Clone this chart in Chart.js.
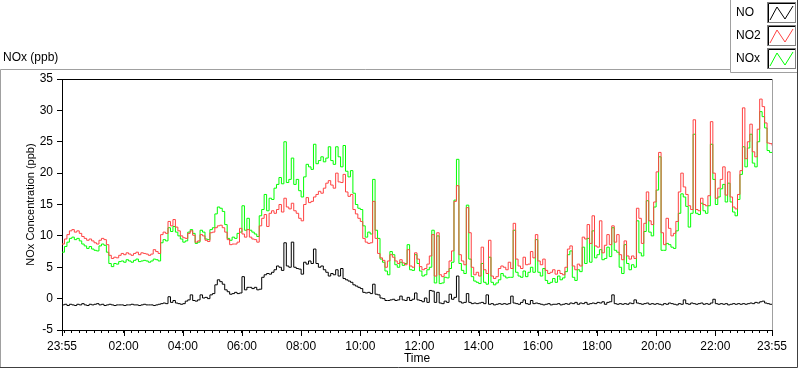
<!DOCTYPE html>
<html>
<head>
<meta charset="utf-8">
<script src="https://cdn.jsdelivr.net/npm/chart.js@4.4.1/dist/chart.umd.min.js"></script>
<style>
  html, body { margin: 0; padding: 0; background: #fff; }
  canvas { display: block; }
</style>
</head>
<body>
<canvas id="noxChart" width="800" height="369"></canvas>
<script>
// one reading every 5 minutes, starting 23:55 (row = one hour)
const sampleMinutes = 5;

const noValues = [
    -1.0, -0.9, -1.1, -0.9, -1.0, -1.1, -0.9, -1.0, -0.8, -1.0, -1.1, -0.9,
    -1.0, -0.9, -0.8, -1.0, -0.9, -1.1, -1.0, -0.9, -1.0, -1.1, -1.0, -1.0,
    -1.0, -1.1, -1.0, -1.0, -0.9, -1.0, -1.0, -1.1, -1.0, -0.9, -1.0, -1.0,
    -1.0, -1.1, -1.0, -0.9, -0.8, -0.7, -0.8, 0.3, -0.6, -0.3, -0.7, -0.8,
    -0.9, -0.8, -0.4, -0.2, 0.6, -0.3, -0.4, -0.2, 0.6, 0.1, 0.2, 0.0,
    0.6, 0.8, 2.2, 3.0, 2.7, 2.3, 1.4, 1.1, 0.7, 0.8, 1.0, 0.8,
    0.9, 3.5, 1.4, 1.8, 1.8, 1.6, 1.8, 1.4, 1.5, 3.4, 3.8, 4.0,
    3.9, 4.2, 4.6, 5.2, 5.0, 4.5, 8.9, 5.2, 5.0, 9.0, 5.0, 4.8,
    4.7, 3.9, 5.8, 5.5, 6.0, 5.6, 7.9, 5.6, 5.0, 5.2, 4.6, 4.2,
    3.6, 4.0, 3.8, 4.6, 3.6, 4.8, 3.2, 3.0, 2.8, 2.6, 2.2, 2.0,
    1.8, 1.6, 1.0, 0.9, 1.0, 0.8, 2.3, 0.7, 0.6, 0.1, 0.0, -0.3,
    -0.3, -0.2, -0.1, -0.3, -0.2, 0.4, -0.2, -0.3, 0.2, -0.3, -0.1, 0.9,
    -0.2, -0.3, -0.5, 0.1, -0.6, 1.3, 1.2, -0.6, 1.0, -0.7, -0.8, -0.4,
    -0.6, 0.7, -0.1, 0.2, 3.6, -0.5, -0.7, -0.6, 0.8, -0.6, -0.8, -0.7,
    -0.8, -0.7, -0.6, -0.8, 0.6, -0.9, -0.8, -1.0, -0.9, -0.8, -0.9, -0.8,
    -0.9, -0.8, 0.4, -0.7, -0.8, -0.9, -0.6, -0.2, -0.8, -0.9, -0.3, -0.8,
    -0.7, -0.8, -0.9, -1.0, -0.9, -0.8, -1.0, -0.9, -0.9, -0.8, -1.0, -0.9,
    -0.8, -0.9, -0.7, -0.8, -0.6, -0.9, -0.7, -0.8, -0.6, -0.9, -0.8, -0.7,
    -0.8, -0.6, -0.7, -0.5, -0.9, -0.6, -0.5, 0.6, -0.8, -0.9, -0.8, -0.9,
    -0.8, -0.9, -0.7, -0.8, -0.2, -0.7, -0.8, -0.9, -0.8, -0.7, -0.9, -0.8,
    -0.9, -0.8, -0.9, -1.0, -0.8, -0.9, -0.7, -0.8, -0.9, -1.0, -0.8, -0.9,
    -0.2, -0.8, -0.9, -0.7, -0.8, -0.9, -0.8, -0.7, -0.9, -0.8, -0.9, -0.7,
    -0.1, -0.8, -0.9, -0.8, -0.9, -0.8, -1.0, -0.9, -0.8, -0.9, -0.8, -0.9,
    -0.8, -0.9, -0.8, -0.7, -0.8, -0.6, -0.7, -0.5, -0.4, -0.7, -0.8, -0.9,
    -0.9
];

const no2Values = [
    8.7, 9.5, 10.2, 10.8, 11.0, 10.6, 10.8, 10.4, 9.9, 9.6, 9.3, 9.5,
    9.2, 8.9, 8.7, 9.3, 9.6, 9.4, 8.6, 6.9, 6.4, 6.6, 6.5, 6.9,
    7.2, 7.0, 7.3, 7.1, 6.9, 7.2, 7.4, 7.0, 7.3, 7.2, 7.1, 6.9,
    7.1, 7.8, 7.5, 7.2, 10.2, 10.6, 10.4, 12.3, 11.6, 12.6, 11.4, 10.8,
    10.0, 9.7, 9.6, 10.4, 10.8, 10.1, 9.0, 9.2, 10.2, 10.0, 9.3, 9.1,
    10.5, 10.6, 11.3, 11.6, 11.7, 11.3, 10.6, 9.4, 8.6, 8.7, 8.7, 9.0,
    11.2, 10.3, 9.8, 11.0, 9.8, 9.5, 9.4, 9.0, 11.6, 12.8, 13.4, 11.5,
    13.6, 14.0, 13.6, 14.2, 15.0, 13.8, 16.0, 14.6, 14.3, 15.2, 14.0, 13.6,
    12.8, 12.4, 15.0, 16.1, 15.3, 15.5, 16.2, 16.6, 17.1, 16.8, 17.6, 18.4,
    18.8, 18.1, 17.6, 20.0, 18.6, 18.5, 19.8, 17.0, 16.3, 16.6, 14.2, 13.5,
    12.8, 12.3, 9.6, 9.0, 8.8, 8.9, 15.5, 9.6, 7.2, 6.5, 6.1, 5.0,
    6.0, 7.0, 6.6, 6.0, 5.6, 6.2, 5.7, 5.4, 7.8, 5.2, 5.0, 7.3,
    6.3, 5.1, 4.6, 4.8, 5.5, 6.8, 10.2, 3.6, 10.5, 3.8, 3.5, 4.0,
    4.3, 6.0, 7.6, 15.5, 18.0, 7.0, 6.0, 5.4, 14.5, 10.5, 5.0, 3.8,
    4.2, 3.6, 8.2, 4.6, 4.0, 9.3, 3.6, 3.2, 3.5, 4.8, 5.2, 5.0,
    4.6, 5.8, 4.8, 12.0, 6.3, 5.2, 4.8, 6.6, 5.4, 5.5, 7.5, 6.5,
    10.2, 6.0, 5.4, 6.3, 4.5, 4.0, 4.2, 4.6, 3.9, 4.5, 4.0, 3.8,
    5.0, 7.9, 8.4, 5.2, 4.6, 5.5, 5.2, 9.8, 9.5, 11.8, 8.8, 13.2,
    8.4, 8.2, 12.4, 7.3, 8.5, 10.2, 8.6, 11.6, 9.0, 10.2, 7.0, 6.2,
    9.2, 6.8, 6.3, 6.8, 6.4, 14.4, 12.8, 8.8, 12.0, 17.0, 12.4, 11.8,
    15.4, 20.2, 23.3, 10.5, 8.6, 12.8, 11.2, 10.0, 10.4, 12.3, 17.0, 20.0,
    17.8, 16.6, 14.8, 14.2, 28.5, 14.2, 14.0, 16.0, 15.0, 14.8, 16.4, 28.2,
    20.0, 16.0, 17.6, 19.0, 21.0, 16.5, 20.2, 16.2, 14.6, 14.3, 16.6, 20.4,
    30.4, 22.3, 25.0, 27.8, 23.4, 22.6, 27.0, 31.8, 30.6, 28.0, 24.8, 24.7,
    24.4
];

const noxValues = [
    7.4, 8.3, 9.0, 9.6, 9.8, 9.4, 9.6, 9.2, 8.7, 8.4, 8.0, 8.3,
    7.9, 7.7, 7.6, 8.4, 8.7, 8.5, 7.4, 5.6, 5.1, 5.6, 5.5, 5.9,
    6.0, 5.8, 6.2, 6.0, 5.8, 6.1, 6.3, 5.9, 6.0, 6.1, 6.0, 5.8,
    6.0, 6.3, 6.2, 6.0, 8.9, 9.4, 9.2, 11.3, 10.7, 11.5, 10.6, 10.0,
    9.5, 9.0, 9.2, 10.6, 11.0, 10.4, 8.8, 9.0, 10.9, 10.6, 9.5, 9.4,
    11.0, 11.3, 13.5, 14.6, 14.4, 13.9, 11.8, 9.6, 9.3, 9.8, 9.6, 10.4,
    10.6, 14.8, 10.9, 12.8, 10.9, 10.6, 10.3, 9.9, 13.2, 14.2, 16.6, 14.0,
    16.0, 15.8, 17.6, 18.2, 19.3, 18.3, 25.0, 18.5, 19.0, 22.4, 18.2, 19.0,
    17.2, 16.2, 19.4, 21.4, 21.0, 20.6, 24.6, 21.5, 22.0, 22.6, 21.8, 22.4,
    24.2, 22.0, 21.4, 24.2, 22.6, 21.0, 24.4, 20.3, 19.4, 20.4, 16.8, 15.0,
    14.4, 14.2, 11.6, 9.8, 10.6, 10.3, 19.0, 10.9, 9.6, 6.3, 5.8, 4.4,
    3.8, 7.5, 7.0, 5.4, 5.0, 5.8, 5.3, 5.6, 8.6, 4.6, 4.5, 7.0,
    5.6, 4.4, 3.6, 3.8, 4.6, 5.0, 10.9, 2.5, 10.0, 2.4, 2.5, 3.4,
    3.3, 4.8, 5.8, 15.7, 22.2, 5.6, 4.5, 4.0, 14.9, 6.3, 3.5, 2.8,
    2.6, 2.4, 5.6, 2.6, 2.3, 6.6, 2.6, 2.2, 2.5, 3.0, 4.0, 3.6,
    3.3, 3.4, 3.4, 10.9, 4.2, 3.6, 3.4, 4.4, 3.5, 4.2, 5.0, 4.2,
    9.4, 4.2, 3.6, 4.8, 2.9, 2.4, 2.6, 3.2, 2.6, 3.6, 3.0, 3.3,
    4.3, 7.0, 7.6, 3.4, 2.9, 4.6, 4.3, 8.2, 5.6, 9.6, 5.8, 10.8,
    6.5, 7.0, 7.8, 6.2, 6.4, 8.2, 6.7, 11.3, 7.7, 7.4, 5.0, 4.0,
    8.6, 5.6, 4.6, 5.4, 5.0, 12.4, 7.3, 6.8, 10.7, 15.6, 10.6, 10.0,
    14.6, 17.3, 22.6, 7.7, 7.7, 8.8, 8.6, 8.2, 8.0, 10.8, 13.6, 16.7,
    16.2, 14.7, 11.4, 13.6, 26.2, 13.6, 13.4, 15.2, 14.0, 13.6, 14.8, 24.6,
    19.0, 15.0, 16.2, 17.5, 18.2, 15.4, 18.4, 15.4, 13.8, 13.2, 15.8, 19.8,
    24.2, 21.0, 24.0, 26.2, 21.6, 21.0, 25.0, 29.8, 29.0, 27.2, 23.6, 23.3,
    23.2
];

const seriesNames = ['NO', 'NO2', 'NOx'];
const seriesColors = ['#000000', '#ff4343', '#00ff00'];
const timeLabels = ['23:55', '02:00', '04:00', '06:00', '08:00', '10:00', '12:00',
    '14:00', '16:00', '18:00', '20:00', '22:00', '23:55'];
const yMin = -5, yMax = 35, yStep = 5;

const FONT = "'Liberation Sans', Arial, sans-serif";

// label text -> hours since start (23:55)
function labelHours(label, i) {
    if (i === timeLabels.length - 1) return 24;
    const [hh, mm] = label.split(':').map(Number);
    return (((hh * 60 + mm + 5) % 1440) / 60);
}
const majorHours = timeLabels.map(labelHours);

// minor ticks every 15 minutes from 00:00
const minorHours = [];
for (let m = 5; m < 1440; m += 15) minorHours.push(m / 60);
const allTicks = [0].concat(minorHours, [24]);

function toPoints(values) {
    return values.map((v, i) => ({ x: i * sampleMinutes / 60, y: v }));
}

const framePlugin = {
    id: 'labviewFrame',
    afterDraw(chart) {
        const ctx = chart.ctx;
        const area = chart.chartArea;
        ctx.save();
        ctx.lineWidth = 1;

        // top edge of plot (black) and right edge (grey)
        ctx.strokeStyle = '#000';
        ctx.beginPath();
        ctx.moveTo(area.left, area.top + 0.5);
        ctx.lineTo(area.right, area.top + 0.5);
        ctx.stroke();
        ctx.strokeStyle = '#a0a0a0';
        ctx.beginPath();
        ctx.moveTo(area.right + 0.5, area.top);
        ctx.lineTo(area.right + 0.5, area.bottom + 1);
        ctx.stroke();

        // longer ticks at the labelled times
        const xs = chart.scales.x;
        ctx.strokeStyle = '#000';
        majorHours.forEach(h => {
            const px = Math.round(xs.getPixelForValue(h)) + 0.5;
            ctx.beginPath();
            ctx.moveTo(px, area.bottom);
            ctx.lineTo(px, area.bottom + 6);
            ctx.stroke();
        });

        // outer panel border
        ctx.strokeStyle = '#a0a0a0';
        ctx.beginPath();
        ctx.moveTo(0.5, 368);
        ctx.lineTo(0.5, 69.5);
        ctx.lineTo(730, 69.5);
        ctx.stroke();
        ctx.strokeStyle = '#404040';
        ctx.beginPath();
        ctx.moveTo(0, 367.5);
        ctx.lineTo(797.5, 367.5);
        ctx.lineTo(797.5, 72);
        ctx.stroke();

        // legend box
        ctx.fillStyle = '#fff';
        ctx.fillRect(731, 1, 66, 71);
        ctx.strokeStyle = '#a0a0a0';
        ctx.beginPath();
        ctx.moveTo(730.5, 0);
        ctx.lineTo(730.5, 72.5);
        ctx.lineTo(797, 72.5);
        ctx.stroke();
        ctx.strokeStyle = '#404040';
        ctx.beginPath();
        ctx.moveTo(797.5, 0);
        ctx.lineTo(797.5, 73);
        ctx.stroke();

        ctx.font = '12px ' + FONT;
        ctx.textBaseline = 'middle';
        ctx.textAlign = 'left';
        seriesNames.forEach((name, i) => {
            const cy = 13 + i * 23;
            ctx.fillStyle = '#000';
            ctx.fillText(name, 736, cy);
            // swatch
            ctx.strokeStyle = '#808080';
            ctx.strokeRect(767.5, cy - 10.5, 28, 20);
            ctx.strokeStyle = '#000';
            ctx.beginPath();
            ctx.moveTo(768.5, cy - 9.5);
            ctx.lineTo(795, cy - 9.5);
            ctx.moveTo(768.5, cy - 9.5);
            ctx.lineTo(768.5, cy + 9);
            ctx.stroke();
            ctx.strokeStyle = seriesColors[i];
            ctx.beginPath();
            ctx.moveTo(770, cy + 7);
            ctx.lineTo(777, cy - 6);
            ctx.lineTo(785, cy + 6);
            ctx.lineTo(793, cy - 7);
            ctx.stroke();
        });

        // graph caption
        ctx.fillStyle = '#000';
        ctx.fillText('NOx (ppb)', 3, 58);
        ctx.restore();
    }
};

new Chart(document.getElementById('noxChart'), {
    type: 'line',
    data: {
        datasets: [
            { label: seriesNames[0], data: toPoints(noValues), borderColor: seriesColors[0], order: 0 },
            { label: seriesNames[1], data: toPoints(no2Values), borderColor: seriesColors[1], order: 1 },
            { label: seriesNames[2], data: toPoints(noxValues), borderColor: seriesColors[2], order: 2 }
        ]
    },
    options: {
        responsive: false,
        animation: false,
        parsing: false,
        datasets: {
            line: {
                borderWidth: 1,
                pointRadius: 0,
                stepped: true,
                tension: 0
            }
        },
        layout: {
            padding: { left: 0, top: 79, right: 28, bottom: 0 }
        },
        plugins: {
            legend: { display: false },
            tooltip: { enabled: false }
        },
        scales: {
            x: {
                type: 'linear',
                min: 0,
                max: 24,
                afterBuildTicks: function (scale) {
                    scale.ticks = allTicks.map(v => ({ value: v }));
                },
                afterFit: function (scale) {
                    scale.height = 39;
                },
                ticks: {
                    autoSkip: false,
                    maxRotation: 0,
                    minRotation: 0,
                    padding: 6,
                    color: '#000',
                    font: { family: FONT, size: 12 },
                    callback: function (value) {
                        const idx = majorHours.findIndex(h => Math.abs(h - value) < 1e-6);
                        return idx >= 0 ? timeLabels[idx] : '';
                    }
                },
                grid: {
                    drawOnChartArea: false,
                    drawTicks: true,
                    tickLength: 3,
                    color: '#000'
                },
                border: { display: true, color: '#000', width: 1 },
                title: {
                    display: true,
                    text: 'Time',
                    color: '#000',
                    font: { family: FONT, size: 12 },
                    padding: { top: 0, bottom: 3 }
                }
            },
            y: {
                min: yMin,
                max: yMax,
                afterFit: function (scale) {
                    scale.width = 62;
                },
                ticks: {
                    stepSize: yStep,
                    padding: 4,
                    color: '#000',
                    font: { family: FONT, size: 12 }
                },
                grid: {
                    drawOnChartArea: false,
                    drawTicks: true,
                    tickLength: 5,
                    color: '#000'
                },
                border: { display: true, color: '#000', width: 1 },
                title: {
                    display: true,
                    text: 'NOx Concentration (ppb)',
                    color: '#000',
                    font: { family: FONT, size: 11 },
                    padding: { top: 24, bottom: 0 }
                }
            }
        }
    },
    plugins: [framePlugin]
});
</script>
</body>
</html>
